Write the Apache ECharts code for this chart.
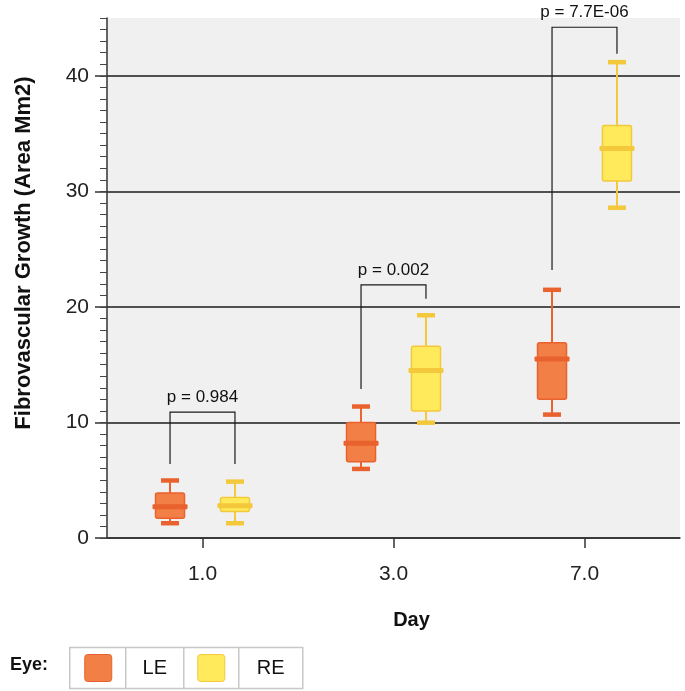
<!DOCTYPE html>
<html>
<head>
<meta charset="utf-8">
<script src="https://cdn.jsdelivr.net/npm/echarts@6/dist/echarts.min.js"></script>
<style>html,body{margin:0;padding:0;background:#fff}#c{width:685px;height:691px}</style>
</head>
<body>
<div id="c"></div>
<script>
// ---- data ----
const days = ['1.0', '3.0', '7.0'];
const leMin    = [1.3, 6.0, 10.7];
const leQ1     = [1.7, 6.6, 12.0];
const leMedian = [2.7, 8.2, 15.5];
const leQ3     = [3.9, 10.0, 16.9];
const leMax    = [5.0, 11.4, 21.5];
const reMin    = [1.3, 10.0, 28.6];
const reQ1     = [2.3, 11.0, 30.9];
const reMedian = [2.8, 14.5, 33.7];
const reQ3     = [3.5, 16.6, 35.7];
const reMax    = [4.9, 19.3, 41.2];
const pLabels      = ['p = 0.984', 'p = 0.002', 'p = 7.7E-06'];
const bracketTop   = [10.9, 21.9, 44.2];
const bracketLegLE = [6.4, 12.9, 23.2];
const bracketLegRE = [6.4, 20.7, 41.9];
const yTicks = [0, 10, 20, 30, 40];

// ---- styles ----
const FONT = '"Liberation Sans", Arial, Helvetica, sans-serif';
const OFFSET = 0.17;
const ST = {
  LE: { fill: '#F27F45', stroke: '#E9622D' },
  RE: { fill: '#FFEA5C', stroke: '#F3C83A' }
};

function boxData(mn, q1, md, q3, mx) {
  return days.map((d, i) => [i, mn[i], q1[i], md[i], q3[i], mx[i]]);
}

function makeBoxRender(side, st) {
  return function (params, api) {
    const ci = api.value(0);
    const band = api.size([1, 0])[0];
    const xc = api.coord([ci, 0])[0] + side * band * OFFSET;
    const y = k => api.coord([ci, api.value(k)])[1];
    const yMin = y(1), yQ1 = y(2), yMd = y(3), yQ3 = y(4), yMax = y(5);
    const bw = 29, mw = 35, cw = 18;
    return {
      type: 'group',
      children: [
        { type: 'line', shape: { x1: xc, y1: yMax, x2: xc, y2: yQ3 }, style: { stroke: st.stroke, lineWidth: 2 } },
        { type: 'line', shape: { x1: xc, y1: yQ1, x2: xc, y2: yMin }, style: { stroke: st.stroke, lineWidth: 2 } },
        { type: 'rect', shape: { x: xc - cw / 2, y: yMax - 2, width: cw, height: 4.5 }, style: { fill: st.stroke } },
        { type: 'rect', shape: { x: xc - cw / 2, y: yMin - 2, width: cw, height: 4.5 }, style: { fill: st.stroke } },
        { type: 'rect', shape: { x: xc - bw / 2, y: yQ3, width: bw, height: yQ1 - yQ3, r: 2 }, style: { fill: st.fill, stroke: st.stroke, lineWidth: 1.5 } },
        { type: 'rect', shape: { x: xc - mw / 2, y: yMd - 2.5, width: mw, height: 5, r: 1 }, style: { fill: st.stroke } }
      ]
    };
  };
}

function bracketRender(params, api) {
  const ci = api.value(0);
  const band = api.size([1, 0])[0];
  const xc = api.coord([ci, 0])[0];
  const xl = xc - band * OFFSET, xr = xc + band * OFFSET;
  const yt = api.coord([ci, api.value(1)])[1];
  const yl = api.coord([ci, api.value(2)])[1];
  const yr = api.coord([ci, api.value(3)])[1];
  return {
    type: 'group',
    children: [
      { type: 'polyline', shape: { points: [[xl, yl], [xl, yt], [xr, yt], [xr, yr]] }, style: { stroke: '#1a1a1a', lineWidth: 1.2, fill: null } },
      { type: 'text', x: xc, y: yt - 15, style: { text: pLabels[params.dataIndex], fontSize: 17, fontFamily: FONT, fill: '#111', align: 'center', verticalAlign: 'middle' } }
    ]
  };
}

const chart = echarts.init(document.getElementById('c'), null, { renderer: 'canvas' });

const option = {
  animation: false,
  backgroundColor: '#ffffff',
  grid: { left: 107, right: 5, top: 18, bottom: 153, show: true, backgroundColor: '#F0F0F0', borderWidth: 0 },
  xAxis: {
    type: 'category',
    data: days,
    boundaryGap: true,
    axisLine: { show: true, lineStyle: { color: '#333', width: 1.5 } },
    axisTick: { show: true, alignWithLabel: true, length: 10, lineStyle: { color: '#333', width: 1.5 } },
    axisLabel: { margin: 26, fontSize: 21, color: '#222', fontFamily: FONT },
    splitLine: { show: false },
    name: 'Day',
    nameLocation: 'middle',
    nameGap: 72,
    nameTextStyle: { fontSize: 20, fontWeight: 'bold', color: '#111', fontFamily: FONT, padding: [0, 0, 0, 36] }
  },
  yAxis: [
    {
      type: 'value', min: 0, max: 45, interval: 10, position: 'left',
      axisLine: { show: true, lineStyle: { color: '#333', width: 1.5 } },
      axisTick: { show: true, length: 12, customValues: yTicks, lineStyle: { color: '#333', width: 1.5 } },
      axisLabel: { customValues: yTicks, margin: 18, fontSize: 21, color: '#222', fontFamily: FONT },
      splitLine: { show: true, lineStyle: { color: '#505050', width: 2 } },
      name: 'Fibrovascular Growth (Area Mm2)',
      nameLocation: 'middle',
      nameGap: 72,
      nameTextStyle: { fontSize: 22, fontWeight: 'bold', color: '#111', fontFamily: FONT, padding: [0, 0, 0, 50] }
    },
    {
      type: 'value', min: 0, max: 45, interval: 1, position: 'left',
      axisLine: { show: false },
      axisTick: { show: true, length: 7, lineStyle: { color: '#444', width: 1 } },
      axisLabel: { show: false },
      splitLine: { show: false }
    }
  ],
  series: [
    { name: 'LE', type: 'custom', yAxisIndex: 0, encode: { x: 0, y: [1, 2, 3, 4, 5] },
      data: boxData(leMin, leQ1, leMedian, leQ3, leMax), renderItem: makeBoxRender(-1, ST.LE) },
    { name: 'RE', type: 'custom', yAxisIndex: 0, encode: { x: 0, y: [1, 2, 3, 4, 5] },
      data: boxData(reMin, reQ1, reMedian, reQ3, reMax), renderItem: makeBoxRender(1, ST.RE) },
    { name: 'p', type: 'custom', yAxisIndex: 0, clip: false, encode: { x: 0, y: [1, 2, 3] },
      data: days.map((d, i) => [i, bracketTop[i], bracketLegLE[i], bracketLegRE[i]]), renderItem: bracketRender }
  ],
  graphic: [
    { type: 'text', left: 10, top: 656, style: { text: 'Eye:', fontSize: 18, fontWeight: 'bold', fontFamily: FONT, fill: '#111' } },
    { type: 'group', left: 69, top: 645, children: [
      { type: 'rect', shape: { x: 0, y: 0, width: 233, height: 41 }, style: { fill: '#fff', stroke: '#c8c8c8', lineWidth: 1.5 } },
      { type: 'line', shape: { x1: 56, y1: 0, x2: 56, y2: 41 }, style: { stroke: '#c8c8c8', lineWidth: 1.5 } },
      { type: 'line', shape: { x1: 114, y1: 0, x2: 114, y2: 41 }, style: { stroke: '#c8c8c8', lineWidth: 1.5 } },
      { type: 'line', shape: { x1: 169, y1: 0, x2: 169, y2: 41 }, style: { stroke: '#c8c8c8', lineWidth: 1.5 } },
      { type: 'rect', shape: { x: 15, y: 7, width: 27, height: 27, r: 3 }, style: { fill: ST.LE.fill, stroke: ST.LE.stroke, lineWidth: 1 } },
      { type: 'text', x: 85, y: 21, style: { text: 'LE', fontSize: 20, fontFamily: FONT, fill: '#111', align: 'center', verticalAlign: 'middle' } },
      { type: 'rect', shape: { x: 128, y: 7, width: 27, height: 27, r: 3 }, style: { fill: ST.RE.fill, stroke: ST.RE.stroke, lineWidth: 1 } },
      { type: 'text', x: 201, y: 21, style: { text: 'RE', fontSize: 20, fontFamily: FONT, fill: '#111', align: 'center', verticalAlign: 'middle' } }
    ] }
  ]
};
chart.setOption(option);
</script>
</body>
</html>
